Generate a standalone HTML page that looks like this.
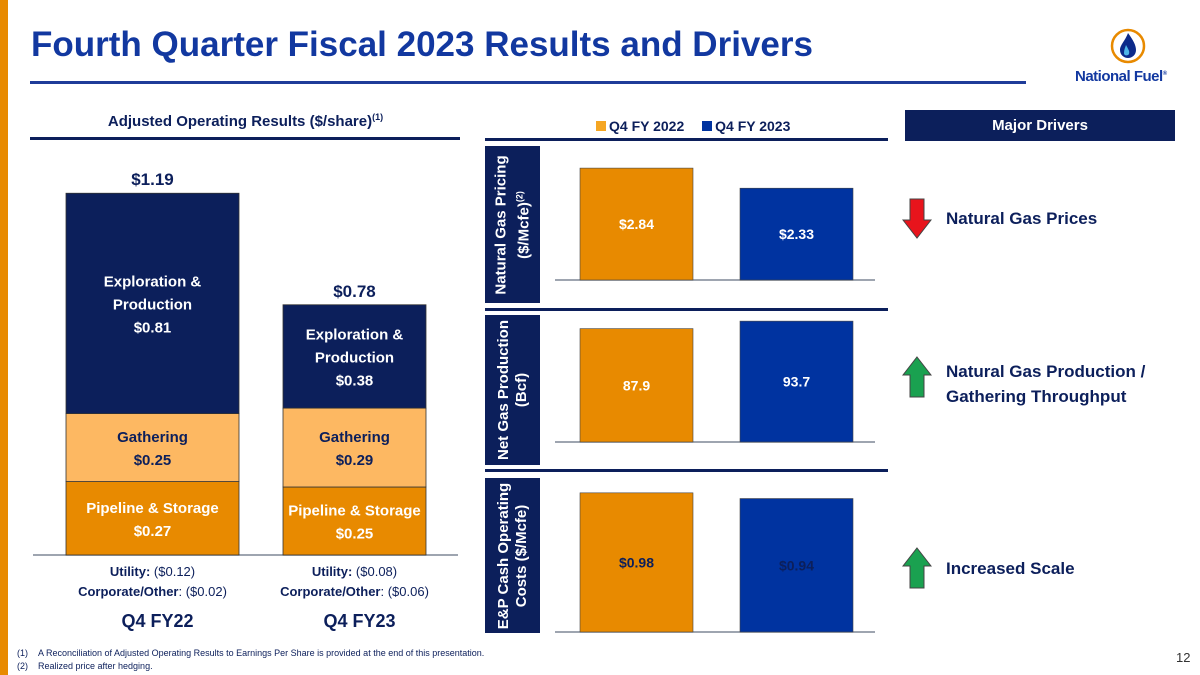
<!DOCTYPE html>
<html><head><meta charset="utf-8"><style>
body{margin:0;width:1200px;height:675px;overflow:hidden;background:#fff;font-family:"Liberation Sans",sans-serif;position:relative}
.a{position:absolute}
.side{position:absolute;left:485px;width:55px;background:#0c1f5b}
.side div{position:absolute;left:50%;top:50%;transform:translate(-50%,-50%) rotate(-90deg);color:#fff;font-weight:bold;font-size:15px;text-align:center;white-space:nowrap;line-height:18px}
.rule{position:absolute;height:3px;background:#0c1f5b}
.drv{position:absolute;left:946px;color:#0c1f5b;font-weight:bold;font-size:17px;line-height:25px}
</style></head><body>
<div class="a" style="left:0;top:0;width:8px;height:675px;background:#e88a00"></div>
<div class="a" style="left:31px;top:25px;font-size:35px;font-weight:bold;color:#1238a0;white-space:nowrap">Fourth Quarter Fiscal 2023 Results and Drivers</div>
<div class="a" style="left:30px;top:81px;width:996px;height:3px;background:#1f3c99"></div>
<svg class="a" style="left:1109px;top:27px" width="38" height="38"><circle cx="19" cy="19" r="16" fill="#fff" stroke="#e88a00" stroke-width="2.5"/><path d="M19 6 C24 13 27 18 27 23 C27 28 23 31 19 31 C15 31 11 28 11 23 C11 18 16 14 19 6Z" fill="#0c2a8a"/><path d="M17 18 C19 22 21 24 20 27 C19 29 15 29 15 26 C15 23 16 21 17 18Z" fill="#4fb6e8"/></svg>
<div class="a" style="left:1075px;top:68px;font-size:15px;font-weight:bold;color:#1238a0;letter-spacing:-0.5px">National Fuel<sup style="font-size:6px">®</sup></div>

<div class="a" style="left:33px;top:112px;width:425px;text-align:center;font-size:15px;font-weight:bold;color:#0c1f5b">Adjusted Operating Results ($/share)<sup style="font-size:9px">(1)</sup></div>
<div class="rule" style="left:30px;top:137px;width:430px"></div>
<svg class="a" id="stack" style="left:0;top:0" width="480" height="640"></svg>

<div class="a" style="left:596px;top:118px;font-size:14px;font-weight:bold;color:#0c1f5b;white-space:nowrap">
<span><span style="display:inline-block;width:10px;height:10px;background:#f5a623;margin-right:3px"></span>Q4 FY 2022</span>
<span style="margin-left:14px"><span style="display:inline-block;width:10px;height:10px;background:#0033a0;margin-right:3px"></span>Q4 FY 2023</span></div>
<div class="rule" style="left:485px;top:138px;width:403px"></div>
<div class="rule" style="left:485px;top:308px;width:403px"></div>
<div class="rule" style="left:485px;top:469px;width:403px"></div>
<div class="side" style="top:146px;height:157px"><div>Natural Gas Pricing<br>($/Mcfe)<sup style="font-size:9px">(2)</sup></div></div>
<div class="side" style="top:315px;height:150px"><div>Net Gas Production<br>(Bcf)</div></div>
<div class="side" style="top:478px;height:155px"><div>E&amp;P Cash Operating<br>Costs ($/Mcfe)</div></div>
<svg class="a" id="panels" style="left:0;top:0" width="900" height="675"></svg>

<div class="a" style="left:905px;top:110px;width:270px;height:31px;background:#0c1f5b;color:#fff;font-weight:bold;font-size:15px;text-align:center;line-height:31px">Major Drivers</div>
<svg class="a" style="left:902px;top:198px" width="30" height="42"><polygon points="8,1 22,1 22,22 29,22 15,40 1,22 8,22" fill="#e8141c" stroke="#444" stroke-width="1"/></svg>
<div class="drv" style="top:206px">Natural Gas Prices</div>
<svg class="a" style="left:902px;top:356px" width="30" height="42"><polygon points="15,1 29,19 22,19 22,41 8,41 8,19 1,19" fill="#1aa150" stroke="#444" stroke-width="1"/></svg>
<div class="drv" style="top:359px">Natural Gas Production /<br>Gathering Throughput</div>
<svg class="a" style="left:902px;top:547px" width="30" height="42"><polygon points="15,1 29,19 22,19 22,41 8,41 8,19 1,19" fill="#1aa150" stroke="#444" stroke-width="1"/></svg>
<div class="drv" style="top:556px">Increased Scale</div>

<div class="a" style="left:17px;top:648px;font-size:9px;color:#0c1f5b">(1)&nbsp;&nbsp;&nbsp;&nbsp;A Reconciliation of Adjusted Operating Results to Earnings Per Share is provided at the end of this presentation.</div>
<div class="a" style="left:17px;top:661px;font-size:9px;color:#0c1f5b">(2)&nbsp;&nbsp;&nbsp;&nbsp;Realized price after hedging.</div>
<div class="a" style="left:1176px;top:650px;font-size:13px;color:#333">12</div>

<script>
const periods=["Q4 FY22","Q4 FY23"];
const pipeline=[0.27,0.25];
const gathering=[0.25,0.29];
const exploration=[0.81,0.38];
const totals=["$1.19","$0.78"];
const utility=["($0.12)","($0.08)"];
const corporate=["($0.02)","($0.06)"];
const NS="http://www.w3.org/2000/svg";
function mk(p,t,a,txt){const e=document.createElementNS(NS,t);for(const k in a)e.setAttribute(k,a[k]);if(txt!==undefined)e.textContent=txt;p.appendChild(e);return e;}
const st=document.getElementById('stack');
const base=555,sc=272;const bx=[66,283],bw=[173,143];
const yS=v=>v*sc;
mk(st,'line',{x1:33,x2:458,y1:base,y2:base,stroke:'#7f8795','stroke-width':1.5});
periods.forEach((p,i)=>{
 let y=base;
 const segs=[[pipeline[i],'#e88a00','Pipeline & Storage','#fff'],[gathering[i],'#fdb862','Gathering','#0c1f5b'],[exploration[i],'#0c1f5b','Exploration &|Production','#fff']];
 segs.forEach((s,j)=>{
  const h=yS(s[0]);y-=h;
  const r=mk(st,'rect',{x:bx[i],y:y,width:bw[i],height:h,fill:s[1],stroke:'#333','stroke-width':0.8});
  
  
  const lines=s[2].split('|').concat(['$'+s[0].toFixed(2)]);
  const cx=bx[i]+bw[i]/2,cy=y+h/2;
  lines.forEach((l,k)=>{const t=mk(st,'text',{x:cx,y:cy+(k-(lines.length-1)/2)*23+6,'text-anchor':'middle','font-size':15,'font-weight':'bold',fill:s[3]},l);
   
   });
 });
 const cx=bx[i]+bw[i]/2;
 const tt=mk(st,'text',{x:cx,y:y-8,'text-anchor':'middle','font-size':17,'font-weight':'bold',fill:'#0c1f5b'},totals[i]);
 
 
 const u=mk(st,'text',{x:cx,y:576,'text-anchor':'middle','font-size':13,fill:'#0c1f5b'});
 mk(u,'tspan',{'font-weight':'bold'},'Utility: ');mk(u,'tspan',{},utility[i]);
 
 
 const c=mk(st,'text',{x:cx,y:596,'text-anchor':'middle','font-size':13,fill:'#0c1f5b'});
 mk(c,'tspan',{'font-weight':'bold'},'Corporate/Other');mk(c,'tspan',{},': '+corporate[i]);
 
 
 const q=mk(st,'text',{x:cx+5,y:627,'text-anchor':'middle','font-size':18,'font-weight':'bold',fill:'#0c1f5b'},periods[i]);
 
 
});

const priceVals=[2.84,2.33];
const priceLabels=["$2.84","$2.33"];
const prodVals=[87.9,93.7];
const prodLabels=["87.9","93.7"];
const costVals=[0.98,0.94];
const costLabels=["$0.98","$0.94"];
const pn=document.getElementById('panels');
const panels=[[priceVals,priceLabels,280,39.4,'#fff','price'],[prodVals,prodLabels,442,1.29,'#fff','production'],[costVals,costLabels,632,142,'#0c1f5b','cost']];
const px=[580,740],pw=113,cols=['#e88a00','#0033a0'];
panels.forEach(P=>{
 mk(pn,'line',{x1:555,x2:875,y1:P[2],y2:P[2],stroke:'#7f8795','stroke-width':1.5});
 P[0].forEach((v,i)=>{
  const h=v*P[3];
  const r=mk(pn,'rect',{x:px[i],y:P[2]-h,width:pw,height:h,fill:cols[i],stroke:'#444','stroke-width':0.6});
  
  
  const t=mk(pn,'text',{x:px[i]+pw/2,y:P[2]-h/2+5,'text-anchor':'middle','font-size':14,'font-weight':'bold',fill:P[4]},P[1][i]);
  
  
 });
});
</script>
</body></html>
